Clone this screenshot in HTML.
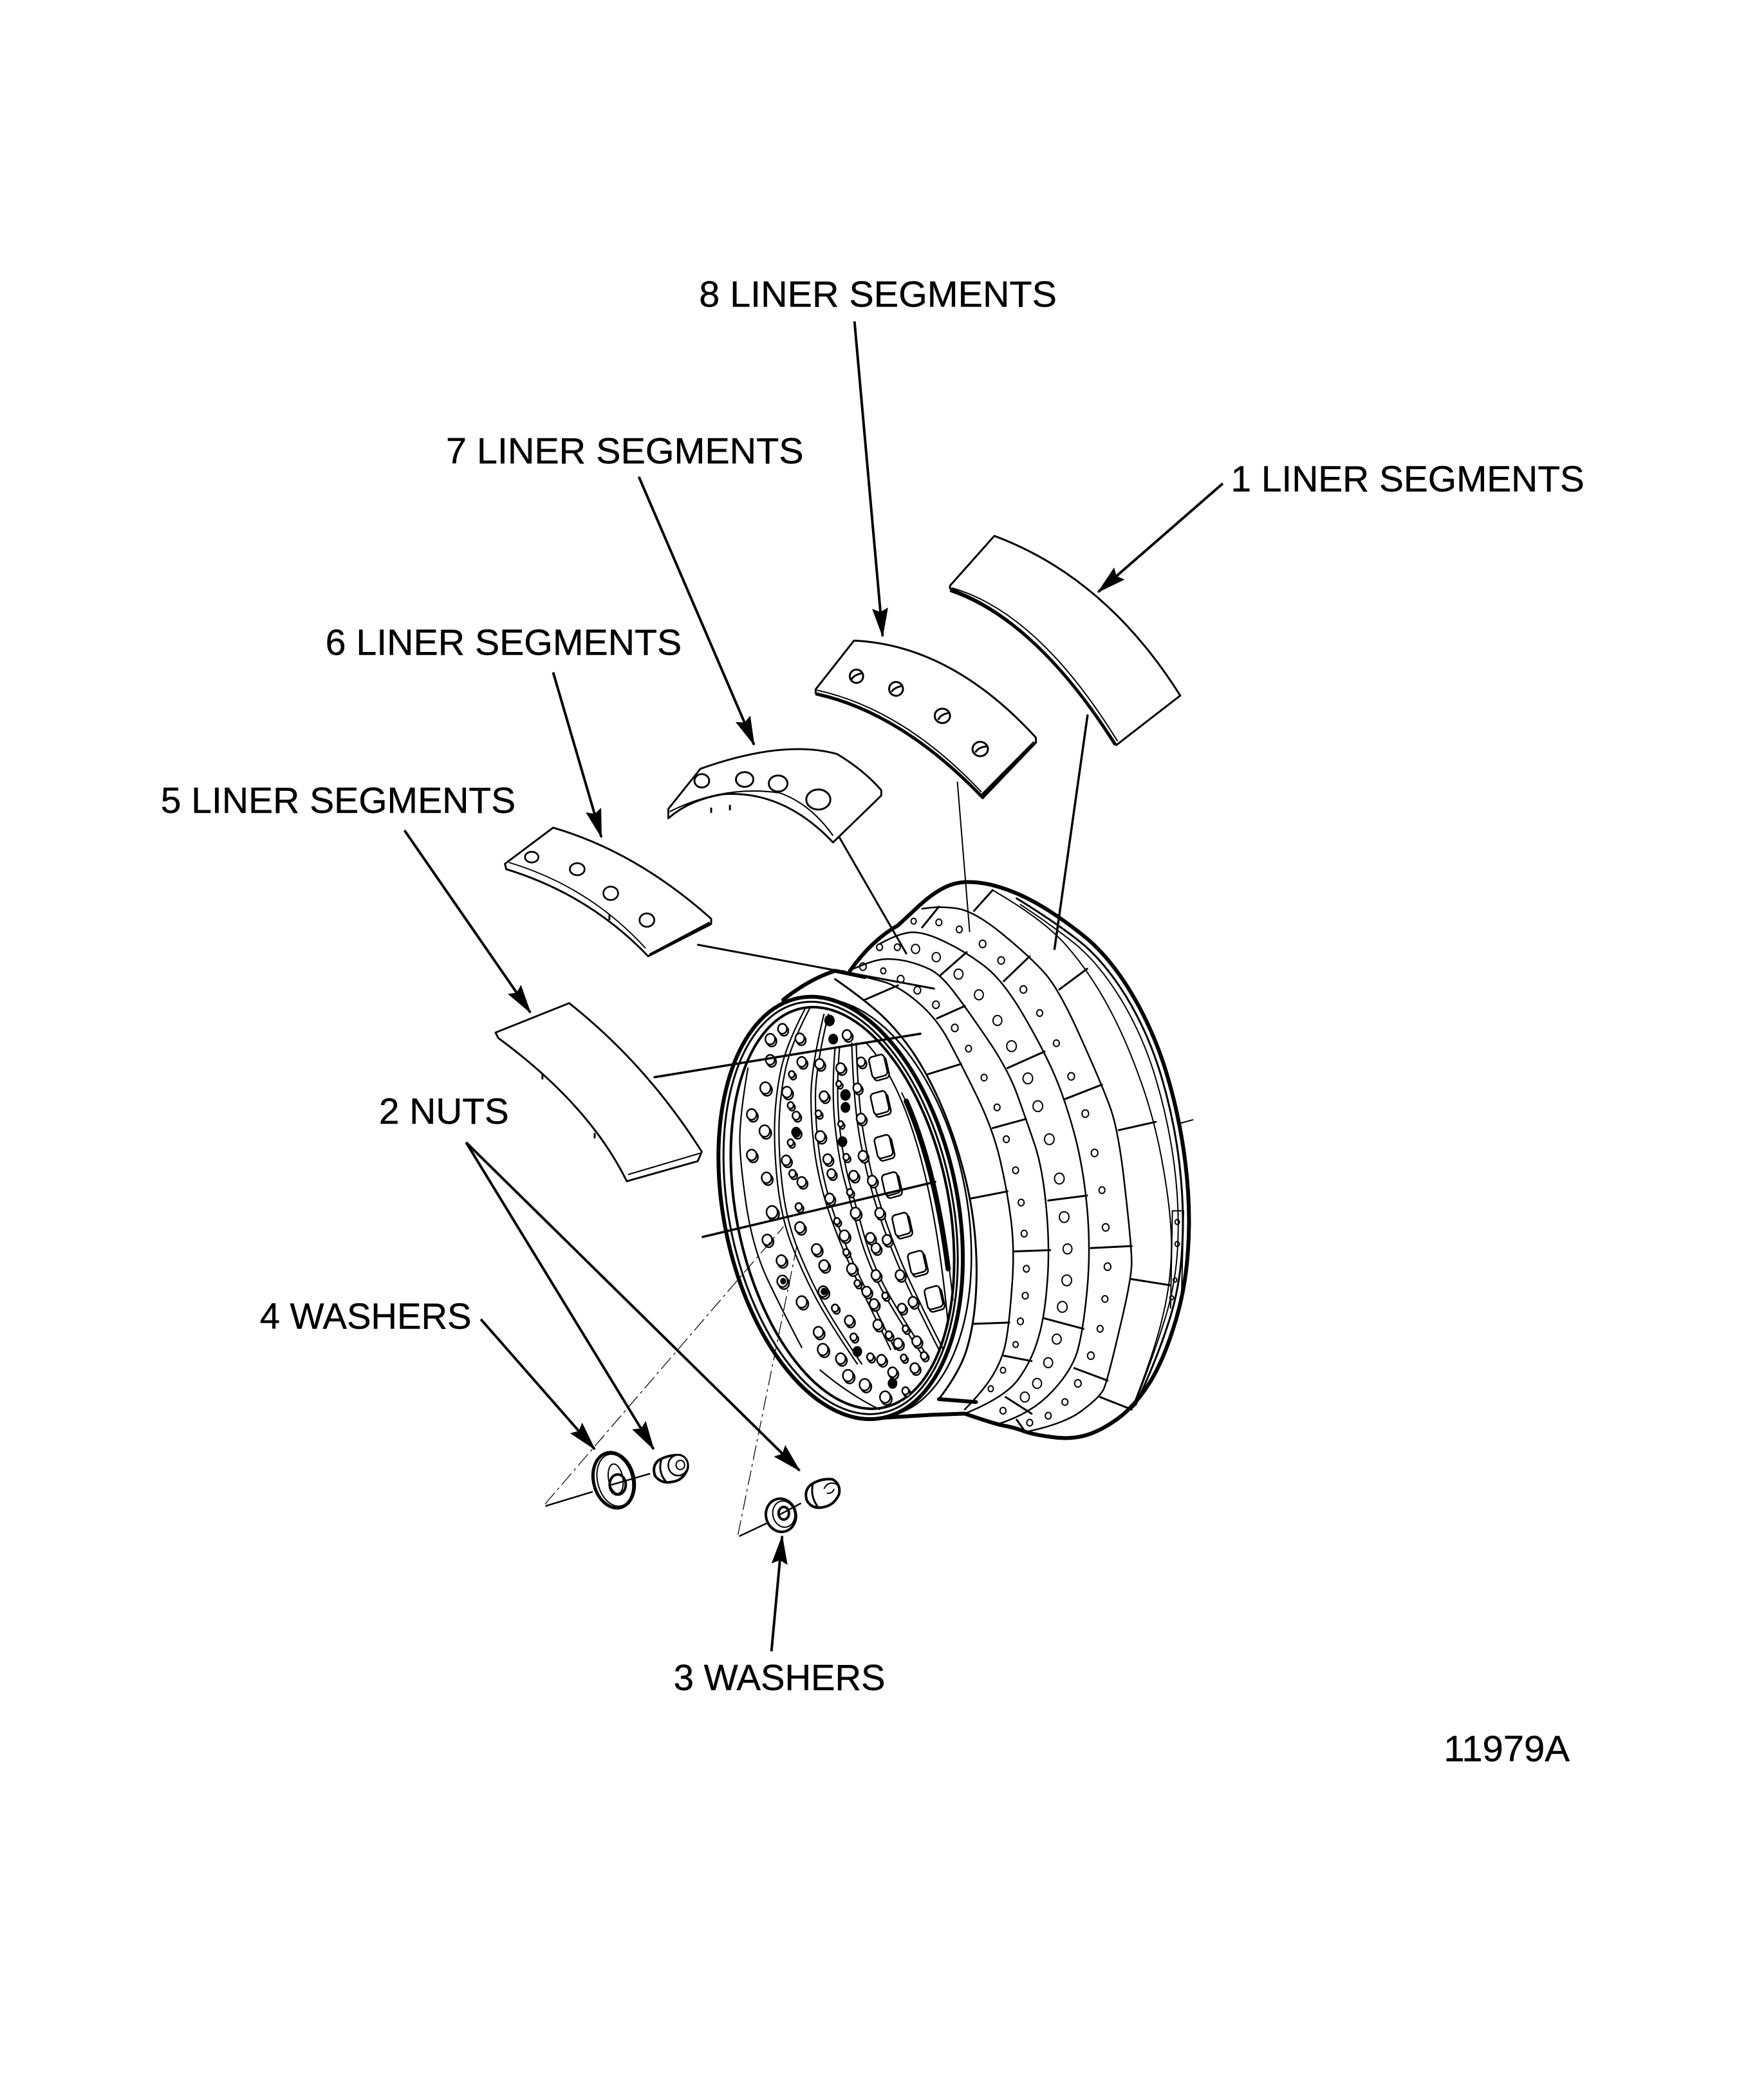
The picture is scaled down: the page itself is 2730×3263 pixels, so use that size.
<!DOCTYPE html>
<html><head><meta charset="utf-8"><title>Liner segments</title>
<style>
html,body{margin:0;padding:0;background:#fff}
svg{display:block}
.v *{vector-effect:non-scaling-stroke}
text{font-family:"Liberation Sans",sans-serif;font-size:27px;fill:#000;stroke:#000;stroke-width:.2px}
</style></head><body>
<svg xmlns="http://www.w3.org/2000/svg" width="2730" height="3263" viewBox="0 0 2730 3263">
<defs>
<marker id="a" viewBox="0 0 22 12" refX="21" refY="6" markerWidth="22" markerHeight="13" markerUnits="userSpaceOnUse" orient="auto"><polygon points="0,0 22,6 0,12 3,6" fill="#000"/></marker>
</defs>
<rect width="2730" height="3263" fill="#fff"/>

<!-- wheel -->
<g class="v" transform="translate(998 1299.5) scale(.576 .643)" stroke="#000" stroke-width="2.5" fill="none" stroke-linecap="round" stroke-linejoin="round">
<!-- silhouette -->
<path stroke-width="6" d="M750 165Q800 125 840 115Q880 105 940 117Q1000 130 1060 160Q1120 190 1190 240Q1260 290 1320 380Q1380 470 1415 575Q1450 680 1465 790Q1480 900 1472 1000Q1465 1100 1432 1190Q1400 1280 1360 1332Q1320 1385 1275 1412Q1230 1440 1190 1449Q1150 1458 1100 1451Q1050 1445 1025 1436Q1000 1428 975 1424Q950 1420 870 1395L780 1398L650 1405"/>
<path stroke-width="6" d="M380 395Q450 345 520 325L600 340"/>
<path stroke-width="6" d="M560 325Q620 250 690 215Q720 190 750 165"/>
<path stroke-width="6" d="M800 1360L900 1367"/>
<!-- flange rings -->
<path stroke-width="3" d="M1010 150Q1110 205 1177 252Q1245 300 1305 387Q1365 475 1400 580Q1435 685 1449 792Q1463 900 1456 997Q1450 1095 1417 1182Q1385 1270 1330 1375"/>
<path stroke-width="2" d="M1020 165Q1100 212 1165 258Q1230 305 1290 392Q1350 480 1385 585Q1420 690 1435 795Q1450 900 1444 995Q1438 1090 1406 1177Q1375 1265 1325 1380"/>
<!-- band rings -->
<path d="M945 130Q1080 200 1140 260Q1200 320 1250 400Q1300 480 1342 585Q1385 690 1407 810Q1430 930 1427 1007Q1425 1085 1402 1167Q1380 1250 1320 1385" stroke-width="2"/>
<path d="M755 175Q800 168 847 174Q895 180 970 235Q1045 290 1085 330Q1125 370 1182 485Q1240 600 1262 655Q1285 710 1302 850Q1320 990 1320 1030Q1320 1070 1287 1192Q1255 1315 1245 1335Q1235 1355 1187 1387Q1140 1420 1030 1440"/>
<path d="M640 260Q690 235 725 232Q760 230 817 255Q875 280 925 315Q975 350 1030 435Q1085 520 1112 577Q1140 635 1165 717Q1190 800 1200 900Q1210 1000 1200 1095Q1190 1190 1175 1240Q1160 1290 1105 1342Q1050 1395 960 1420"/>
<path d="M570 320Q620 300 650 297Q680 295 715 302Q750 310 777 322Q805 335 837 372Q870 410 927 485Q985 560 1010 621Q1035 683 1057 741Q1080 800 1090 900Q1100 1000 1092 1082Q1085 1165 1067 1216Q1050 1268 1015 1311Q980 1355 870 1395"/>
<path d="M540 325Q600 340 645 350Q690 360 742 400Q795 440 827 495Q860 550 902 627Q945 705 965 781Q985 858 995 930Q1005 1003 997 1089Q990 1175 982 1215Q975 1255 952 1292Q930 1330 870 1385"/>
<path d="M520 345Q600 395 645 432Q690 470 730 522Q770 575 805 647Q840 720 863 797Q887 875 896 952Q905 1030 900 1104Q895 1178 877 1234Q860 1290 800 1360" stroke-width="3"/>

<!-- dividers -->
<g stroke-width="3">
<path d="M600 395L690 360M770 575L860 550M887 875L985 858M895 1178L990 1175"/>
<path d="M795 440L870 410M945 705L1035 683M1005 1003L1100 1000M975 1255L1050 1268"/>
<path d="M805 335L875 280M985 560L1085 520M1095 880L1200 868M1085 1165L1190 1190M980 1355L1050 1395"/>
<path d="M755 220L800 170M975 350L1045 290M1140 635L1240 600M1210 995L1320 990M1165 1285L1255 1315M1010 1410L1030 1435"/>
<path d="M895 180L945 130M1125 370L1200 320M1285 710L1385 690M1320 1070L1425 1085M1235 1355L1320 1385"/>
<path d="M1430 905L1460 905M1430 905L1425 1140M1460 905L1455 1100" stroke-width="2"/>
</g>

<!-- exterior holes -->
<g stroke-width="2">
<circle cx="640" cy="268" r="8"/><circle cx="688" cy="268" r="8"/><circle cx="595" cy="315" r="9"/><circle cx="650" cy="325" r="7"/>
<circle cx="732" cy="205" r="7"/><circle cx="800" cy="208" r="8"/><circle cx="855" cy="225" r="8"/>
<circle cx="918" cy="260" r="9"/><circle cx="968" cy="300" r="9"/><circle cx="1028" cy="370" r="9"/><circle cx="1072" cy="427" r="8"/><circle cx="1117" cy="500" r="8"/><circle cx="1157" cy="580" r="9"/>
<circle cx="1195" cy="670" r="9"/><circle cx="1220" cy="765" r="9"/><circle cx="1240" cy="855" r="8"/><circle cx="1250" cy="945" r="9"/>
<circle cx="1255" cy="1040" r="9"/><circle cx="1248" cy="1118" r="8"/><circle cx="1235" cy="1190" r="8"/><circle cx="1210" cy="1255" r="9"/>
<circle cx="1175" cy="1322" r="9"/><circle cx="1140" cy="1367" r="8"/><circle cx="1095" cy="1400" r="8"/><circle cx="1045" cy="1417" r="8"/>
<circle cx="843" cy="463" r="9"/><circle cx="880" cy="513" r="8"/><circle cx="922" cy="583" r="8"/><circle cx="957" cy="655" r="8"/>
<circle cx="982" cy="732" r="8"/><circle cx="1007" cy="807" r="8"/><circle cx="1022" cy="885" r="8"/><circle cx="1030" cy="960" r="8"/>
<circle cx="1036" cy="1045" r="8"/><circle cx="1033" cy="1110" r="8"/><circle cx="1020" cy="1172" r="8"/><circle cx="1007" cy="1228" r="7"/>
<circle cx="973" cy="1290" r="7"/><circle cx="940" cy="1335" r="7"/><circle cx="973" cy="1388" r="8"/>
<circle cx="1443" cy="932" r="6"/><circle cx="1443" cy="985" r="6"/><circle cx="1437" cy="1072" r="5"/><circle cx="1428" cy="1115" r="5"/>
<circle cx="737" cy="272" r="11"/><circle cx="793" cy="292" r="11"/><circle cx="697" cy="345" r="9"/><circle cx="742" cy="372" r="9"/><circle cx="792" cy="407" r="9"/>
<circle cx="853" cy="333" r="12"/><circle cx="908" cy="383" r="12"/><circle cx="958" cy="445" r="12"/><circle cx="996" cy="507" r="13"/>
<circle cx="1040" cy="585" r="13"/><circle cx="1067" cy="652" r="13"/><circle cx="1098" cy="732" r="13"/><circle cx="1125" cy="827" r="13"/>
<circle cx="1138" cy="920" r="13"/><circle cx="1147" cy="997" r="12"/><circle cx="1145" cy="1073" r="13"/><circle cx="1133" cy="1137" r="13"/>
<circle cx="1118" cy="1215" r="12"/><circle cx="1095" cy="1272" r="12"/><circle cx="1065" cy="1322" r="12"/><circle cx="1032" cy="1355" r="12"/>
</g>

<!-- front rim -->
<g fill="#fff">
<ellipse cx="555" cy="898" rx="318" ry="515" transform="rotate(-14 555 898)" stroke-width="2.5"/>
<ellipse cx="535" cy="898" rx="314" ry="520" transform="rotate(-14 535 898)" stroke-width="6"/>
<ellipse cx="535" cy="898" rx="300" ry="508" transform="rotate(-14 535 898)" stroke-width="3"/>
<ellipse cx="540" cy="898" rx="285" ry="495" transform="rotate(-14 540 898)" stroke-width="4"/>
</g>

<!-- interior arcs -->
<g stroke-width="2.2">
<path d="M285 560Q262 680 263 740Q265 800 282 900Q300 1000 340 1075Q380 1150 430 1235"/>
<path d="M480 1290Q560 1350 640 1385"/>
<g id="ia">
<path d="M440 415Q390 500 375 560Q360 620 357 690Q355 760 365 840Q375 920 402 985Q430 1050 465 1110Q500 1170 580 1275"/>
<path d="M490 430Q455 560 455 630Q455 700 467 775Q480 850 510 925Q540 1000 575 1065Q610 1130 670 1240"/>
<path d="M520 510Q510 620 520 700Q530 780 545 830Q560 880 585 960Q610 1040 655 1110Q700 1180 760 1260"/>
<path d="M565 500Q570 640 585 720Q600 800 625 875Q650 950 685 1025Q720 1100 800 1240"/>
</g>
<use href="#ia" transform="translate(12 0)"/>
<path d="M605 500Q770 660 825 1180"/>
<path d="M712 640Q790 800 825 1045" stroke-width="8"/>
<path d="M700 620Q800 800 838 1120" stroke-width="2"/>
</g>

<!-- windows -->
<g stroke-width="2.5" fill="#fff">
<use href="#win" transform="translate(5 6)"/>
<g id="win">
<rect x="615" y="530" width="42" height="52" rx="9" transform="rotate(-14 635 555)"/>
<rect x="620" y="618" width="42" height="52" rx="9" transform="rotate(-14 640 645)"/>
<rect x="630" y="724" width="42" height="52" rx="9" transform="rotate(-14 650 750)"/>
<rect x="650" y="814" width="42" height="52" rx="9" transform="rotate(-14 670 840)"/>
<rect x="678" y="912" width="42" height="52" rx="9" transform="rotate(-14 698 938)"/>
<rect x="720" y="1004" width="42" height="52" rx="9" transform="rotate(-14 740 1030)"/>
<rect x="765" y="1089" width="42" height="52" rx="9" transform="rotate(-14 785 1115)"/>
</g>
</g>

<!-- interior holes -->
<g stroke-width="2.5" fill="#fff">
<use href="#ih" transform="translate(4 5)"/>
<g id="ih">
<circle cx="378" cy="465" r="12"/><circle cx="345" cy="490" r="13"/><circle cx="345" cy="540" r="12"/><circle cx="332" cy="608" r="14"/><circle cx="295" cy="672" r="13"/><circle cx="330" cy="712" r="14"/><circle cx="295" cy="770" r="13"/><circle cx="335" cy="825" r="13"/><circle cx="350" cy="908" r="15"/><circle cx="337" cy="975" r="13"/><circle cx="375" cy="1025" r="13"/><circle cx="378" cy="1075" r="14"/><circle cx="430" cy="1125" r="14"/><circle cx="475" cy="1198" r="13"/><circle cx="487" cy="1240" r="14"/><circle cx="535" cy="1262" r="13"/><circle cx="555" cy="1303" r="14"/><circle cx="600" cy="1325" r="14"/><circle cx="655" cy="1355" r="14"/>
<circle cx="425" cy="488" r="12"/><circle cx="403" cy="575" r="8"/><circle cx="390" cy="618" r="13"/><circle cx="400" cy="650" r="8"/><circle cx="415" cy="675" r="10"/><circle cx="415" cy="715" r="11"/><circle cx="400" cy="740" r="8"/><circle cx="388" cy="783" r="12"/><circle cx="405" cy="815" r="9"/><circle cx="430" cy="835" r="12"/><circle cx="422" cy="895" r="9"/><circle cx="425" cy="945" r="13"/><circle cx="470" cy="998" r="13"/><circle cx="490" cy="1037" r="13"/><circle cx="488" cy="1100" r="13"/><circle cx="520" cy="1140" r="9"/><circle cx="558" cy="1170" r="12"/><circle cx="570" cy="1210" r="9"/><circle cx="615" cy="1258" r="9"/><circle cx="645" cy="1265" r="12"/><circle cx="675" cy="1295" r="12"/><circle cx="710" cy="1340" r="9"/>
<circle cx="430" cy="545" r="12"/><circle cx="478" cy="550" r="12"/><circle cx="490" cy="628" r="12"/><circle cx="475" cy="670" r="8"/><circle cx="480" cy="725" r="13"/><circle cx="500" cy="780" r="12"/><circle cx="510" cy="815" r="11"/><circle cx="505" cy="875" r="12"/><circle cx="525" cy="930" r="8"/><circle cx="575" cy="910" r="13"/><circle cx="545" cy="965" r="13"/><circle cx="550" cy="1005" r="8"/><circle cx="565" cy="1045" r="13"/><circle cx="580" cy="1080" r="8"/><circle cx="605" cy="1100" r="12"/><circle cx="625" cy="1130" r="12"/><circle cx="635" cy="1180" r="12"/><circle cx="665" cy="1205" r="9"/><circle cx="690" cy="1225" r="12"/><circle cx="705" cy="1260" r="8"/><circle cx="735" cy="1285" r="12"/><circle cx="740" cy="1220" r="12"/><circle cx="760" cy="1255" r="9"/>
<circle cx="552" cy="480" r="12"/><circle cx="535" cy="560" r="12"/><circle cx="530" cy="598" r="7"/><circle cx="580" cy="608" r="11"/><circle cx="590" cy="545" r="11"/><circle cx="590" cy="682" r="12"/><circle cx="535" cy="695" r="7"/><circle cx="550" cy="775" r="8"/><circle cx="595" cy="772" r="12"/><circle cx="570" cy="820" r="12"/><circle cx="620" cy="832" r="12"/><circle cx="560" cy="860" r="8"/><circle cx="640" cy="910" r="12"/><circle cx="615" cy="970" r="12"/><circle cx="660" cy="975" r="12"/><circle cx="630" cy="995" r="12"/><circle cx="630" cy="1060" r="12"/><circle cx="695" cy="1060" r="12"/><circle cx="655" cy="1110" r="8"/><circle cx="730" cy="1125" r="12"/><circle cx="700" cy="1140" r="11"/><circle cx="710" cy="1190" r="8"/>
</g>
<g fill="#000" stroke="none">
<circle cx="505" cy="445" r="14"/><circle cx="515" cy="490" r="13"/><circle cx="548" cy="625" r="14"/><circle cx="548" cy="655" r="13"/><circle cx="540" cy="738" r="13"/><circle cx="675" cy="1322" r="13"/><circle cx="580" cy="1245" r="13"/><circle cx="415" cy="715" r="9"/><circle cx="490" cy="1100" r="9"/><circle cx="380" cy="1075" r="8"/>
</g>
</g>

<!-- leader lines over wheel -->
<path d="M850 -131L883 230" stroke-width="2"/>
<path d="M1201 -292L1112 272" stroke-width="3.5"/>
<path d="M530 0L712 283" stroke-width="3"/>
<path d="M150 262L787 368" stroke-width="3"/>
<path d="M33 582L750 477" stroke-width="3.5"/>
<path d="M163 968L790 835" stroke-width="3.5"/>
<path d="M1445 695L1485 685" stroke-width="2"/>
</g>

<!-- segments 1 & 8 -->
<g class="v" transform="translate(1300 750) scale(.3846)" stroke="#000" stroke-width="3" fill="#fff" stroke-linejoin="round">
<path d="M637 215Q1088 383 1388 860L1130 1060Q806 550 458 428L458 416Z"/>
<path d="M465 425Q815 525 1135 1045" fill="none" stroke-width="2"/>
<path d="M458 436Q806 555 1125 1060" fill="none" stroke-width="4"/>
<path d="M70 638Q463 656 805 1030L805 1050L590 1275Q260 923 -85 850L-85 835Z"/>
<path d="M-80 838Q270 915 585 1250" fill="none" stroke-width="2"/>
<path d="M-85 853Q260 928 590 1272" fill="none" stroke-width="5"/>
<path d="M800 1050L590 1262" fill="none" stroke-width="6"/>
<g fill="none" stroke-width="3">
<ellipse cx="80" cy="782" rx="27" ry="27"/><ellipse cx="240" cy="833" rx="28" ry="28"/><ellipse cx="427" cy="942" rx="31" ry="29"/><ellipse cx="580" cy="1076" rx="31" ry="29"/>
<path d="M60 795Q70 775 105 770M222 845Q230 828 268 820M410 958Q420 935 455 930M560 1090Q572 1068 608 1065"/>
</g>
</g>

<!-- segments 7, 6, 5, leader arrows, dashes, text -->
<g transform="scale(2.081)">
<g stroke="#000" stroke-width="1.4" fill="#fff" stroke-linejoin="round">
<path d="M523 574Q585 552 625 563Q645 575 658 590L658 594L622 629Q585 590 540 593Q515 597 499 611L499 604Z"/>
<path d="M500 606Q540 586 582 592Q605 600 622 624" fill="none" stroke-width="1"/>
<g fill="none" stroke-width="1.4">
<ellipse cx="524" cy="583" rx="5.5" ry="5"/><ellipse cx="556" cy="582" rx="6.5" ry="5.5"/><ellipse cx="581" cy="585" rx="7" ry="6"/><ellipse cx="611" cy="597" rx="9" ry="7.5"/>
</g>
<path d="M531 603v4M545 601v4" fill="none"/>
<path d="M413 618Q475 636 531 686L531 690L484 714Q440 668 378 649L377 645Z"/>
<path d="M380 644Q440 662 482 708" fill="none" stroke-width=".9"/>
<path d="M530 689L485 713" fill="none" stroke-width="2"/>
<g fill="none" stroke-width="1.3">
<ellipse cx="397" cy="640" rx="5" ry="4"/><ellipse cx="431" cy="649" rx="5.5" ry="4.5"/><ellipse cx="456" cy="667" rx="5.5" ry="5"/><ellipse cx="483" cy="687" rx="5.5" ry="5"/>
</g>
<path d="M455 683v4" fill="none"/>
<path d="M425 749Q483 795 524 860L521 867L468 882Q440 825 372 775L370 771Z"/>
<path d="M469 877L523 861" fill="none" stroke-width="1"/>
<path d="M405 802v4M444 846v4" fill="none"/>
</g>

<g fill="none" stroke="#000" stroke-width="1.9">
<path d="M638 240L659 475" marker-end="url(#a)"/>
<path d="M913 361L820 442" marker-end="url(#a)"/>
<path d="M477 356L563 556" marker-end="url(#a)"/>
<path d="M413 502L449 625" marker-end="url(#a)"/>
<path d="M302 620L396 756" marker-end="url(#a)"/>
<path d="M348 853L488 1082" marker-end="url(#a)"/>
<path d="M348 853L597 1098" marker-end="url(#a)"/>
<path d="M359 985L444 1082" marker-end="url(#a)"/>
<path d="M576 1233L584 1147" marker-end="url(#a)"/>
</g>
<g fill="none" stroke="#000" stroke-width=".6" stroke-dasharray="11 3 2 3">
<path d="M407 1123L585 916"/>
<path d="M551 1146L595 930"/>
</g>

<text x="522" y="229" textLength="267" lengthAdjust="spacingAndGlyphs">8 LINER SEGMENTS</text>
<text x="333" y="346" textLength="267" lengthAdjust="spacingAndGlyphs">7 LINER SEGMENTS</text>
<text x="919" y="367" textLength="264" lengthAdjust="spacingAndGlyphs">1 LINER SEGMENTS</text>
<text x="243" y="489" textLength="266" lengthAdjust="spacingAndGlyphs">6 LINER SEGMENTS</text>
<text x="120" y="607" textLength="265" lengthAdjust="spacingAndGlyphs">5 LINER SEGMENTS</text>
<text x="283" y="839" textLength="97" lengthAdjust="spacingAndGlyphs">2 NUTS</text>
<text x="194" y="992" textLength="158" lengthAdjust="spacingAndGlyphs">4 WASHERS</text>
<text x="503" y="1262" textLength="158" lengthAdjust="spacingAndGlyphs">3 WASHERS</text>
<text x="1078" y="1315" textLength="94" lengthAdjust="spacingAndGlyphs">11979A</text>
</g>

<!-- hardware -->
<g class="v" transform="translate(700 2050) scale(.4464)" stroke="#000" stroke-width="3" fill="#fff">
<ellipse cx="568" cy="560" rx="70" ry="98" transform="rotate(-14 568 560)" stroke-width="5"/>
<ellipse cx="572" cy="560" rx="60" ry="92" transform="rotate(-14 572 560)" stroke-width="2"/>
<ellipse cx="575" cy="555" rx="25" ry="52" transform="rotate(-10 575 555)" stroke-width="2"/>
<ellipse cx="582" cy="575" rx="28" ry="35" stroke-width="4" fill="none"/>
<path d="M553 578L695 537M330 650L495 600" fill="none" stroke-width="2.5"/>
<path d="M725 490Q760 470 800 473Q830 485 825 520Q810 560 775 565Q735 575 712 545Q700 510 725 490Z" stroke-width="4"/>
<path d="M735 485Q720 530 750 565" fill="none"/>
<ellipse cx="792" cy="508" rx="34" ry="36" stroke-width="2.5"/>
<ellipse cx="800" cy="507" rx="15" ry="16" stroke-width="2"/>
<path d="M1255 575Q1290 552 1330 557Q1360 575 1352 610Q1335 645 1305 652Q1260 665 1240 630Q1230 595 1255 575Z" stroke-width="4"/>
<path d="M1262 570Q1250 615 1280 655" fill="none"/>
<path d="M1300 590Q1315 560 1345 575M1310 605a20 20 0 0 0 25 -15" fill="none" stroke-width="2"/>
<ellipse cx="1150" cy="682" rx="52" ry="58" transform="rotate(-14 1150 682)" stroke-width="4"/>
<ellipse cx="1160" cy="678" rx="38" ry="46" transform="rotate(-14 1160 678)" stroke-width="2"/>
<ellipse cx="1160" cy="675" rx="18" ry="22" stroke-width="4" fill="none"/>
<path d="M1005 755L1100 710M1145 680L1220 640" fill="none" stroke-width="2.5"/>
</g>
</svg>
</body></html>
